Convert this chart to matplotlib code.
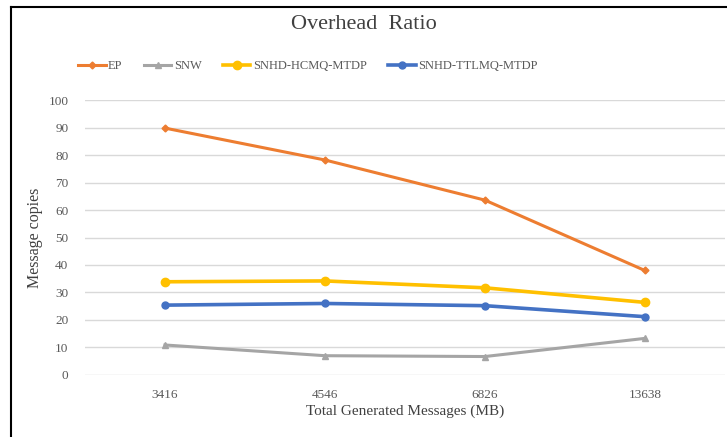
import matplotlib
matplotlib.use("Agg")
import matplotlib.pyplot as plt
from matplotlib.lines import Line2D

plt.rcParams['font.family'] = ['Liberation Serif', 'DejaVu Serif']

# data
categories = ['3416', '4546', '6826', '13638']
ep = [89.8, 78.2, 63.6, 38.0]
snw = [10.9, 7.0, 6.7, 13.3]
hcmq = [33.9, 34.2, 31.7, 26.4]
ttlmq = [25.4, 26.0, 25.2, 21.2]
yticks = list(range(0, 101, 10))

fig = plt.figure(figsize=(7.27, 4.37), dpi=100)
ax = fig.add_axes([0.117, 0.142, 0.88, 0.629])

x = range(len(categories))
ax.plot(x, ep, color='#ED7D31', lw=2.2, marker='D', ms=3.5, label='EP')
ax.plot(x, snw, color='#A5A5A5', lw=2.2, marker='^', ms=4.5, label='SNW')
ax.plot(x, hcmq, color='#FFC000', lw=2.6, marker='o', ms=6, label='SNHD-HCMQ-MTDP')
ax.plot(x, ttlmq, color='#4472C4', lw=2.6, marker='o', ms=5, label='SNHD-TTLMQ-MTDP')

ax.set_xlim(-0.5, 3.5)
ax.set_ylim(0, 100)
ax.set_xticks(list(x))
ax.set_xticklabels(categories)
ax.set_yticks(yticks)
ax.grid(axis='y', color='#D9D9D9', lw=1)
ax.set_axisbelow(True)
for s in ax.spines.values():
    s.set_visible(False)
ax.tick_params(length=0, labelsize=9.5, colors='#595959')
ax.tick_params(axis='y', pad=12)
ax.tick_params(axis='x', pad=10)

ax.set_xlabel('Total Generated Messages (MB)', fontsize=11, color='#404040', labelpad=3)
ax.set_ylabel('Message copies', fontsize=11.5, color='#404040', labelpad=4)

fig.text(0.5, 0.943, 'Overhead  Ratio', ha='center', va='center', fontsize=16, color='#404040')
fig.legend(loc='center left', bbox_to_anchor=(0.092, 0.848), ncol=4, frameon=False,
           fontsize=9, handlelength=2.2, columnspacing=1.7, handletextpad=0.2,
           labelcolor='#595959')

# border of the chart box (top and left edges visible)
fig.add_artist(Line2D([11 / 727, 1], [1 - 7 / 437, 1 - 7 / 437], color='black', lw=1.5, transform=fig.transFigure))
fig.add_artist(Line2D([11 / 727, 11 / 727], [0, 1 - 7 / 437], color='black', lw=1.5, transform=fig.transFigure))

fig.savefig('out.png', dpi=100)
